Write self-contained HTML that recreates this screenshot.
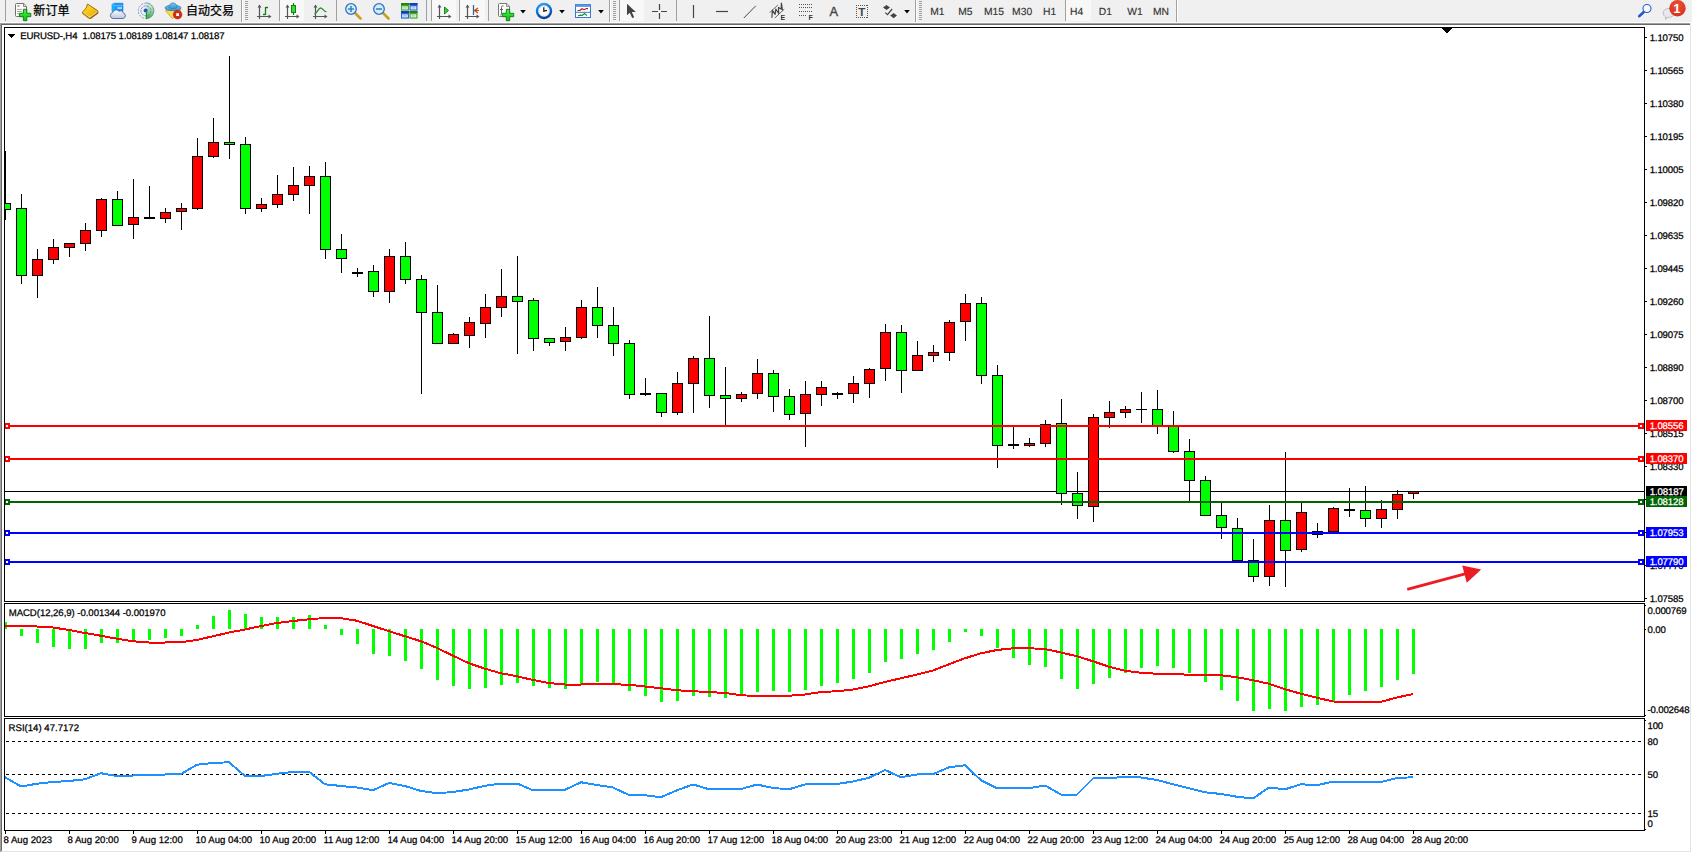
<!DOCTYPE html>
<html><head><meta charset="utf-8"><title>EURUSD-,H4</title>
<style>
html,body{margin:0;padding:0;}
body{width:1692px;height:853px;background:#f0f0f0;position:relative;overflow:hidden;font-family:"Liberation Sans","Noto Sans CJK SC",sans-serif;}
svg{position:absolute;left:0;top:0;}
.t{position:absolute;white-space:nowrap;line-height:11px;height:11px;letter-spacing:-0.15px;text-rendering:geometricPrecision;-webkit-text-stroke:0.25px;}
.b{overflow:hidden;height:10px;padding-top:1px;}
.c{position:absolute;white-space:nowrap;line-height:16px;font-family:"Liberation Sans","Noto Sans CJK SC",sans-serif;}
.m{position:absolute;white-space:nowrap;line-height:12px;color:#333;}
</style></head><body>
<svg width="1692" height="853" viewBox="0 0 1692 853" shape-rendering="crispEdges">
<rect x="0" y="22" width="1692" height="1" fill="#fbfbfb"/>
<rect x="0" y="23" width="1690" height="1" fill="#a0a0a0"/>
<rect x="1" y="24" width="1689" height="1" fill="#696969"/>
<rect x="0" y="23" width="1" height="829" fill="#a0a0a0"/>
<rect x="1" y="24" width="1" height="827" fill="#696969"/>
<rect x="1690" y="24" width="1" height="828" fill="#e3e3e3"/>
<rect x="1" y="851" width="1690" height="1" fill="#e3e3e3"/>
<rect x="2" y="25" width="1688" height="826" fill="#fff"/>
<rect x="1691" y="23" width="1" height="830" fill="#fff"/>
<rect x="0" y="852" width="1692" height="1" fill="#fff"/>
<rect x="4" y="27" width="1641" height="1" fill="#000"/>
<rect x="4" y="601" width="1641" height="1" fill="#000"/>
<rect x="4" y="27" width="1" height="575" fill="#000"/>
<rect x="1644" y="27" width="1" height="575" fill="#000"/>
<rect x="4" y="603" width="1641" height="1" fill="#000"/>
<rect x="4" y="716" width="1641" height="1" fill="#000"/>
<rect x="4" y="603" width="1" height="114" fill="#000"/>
<rect x="1644" y="603" width="1" height="114" fill="#000"/>
<rect x="4" y="718" width="1641" height="1" fill="#000"/>
<rect x="4" y="830" width="1641" height="1" fill="#000"/>
<rect x="4" y="718" width="1" height="113" fill="#000"/>
<rect x="1644" y="718" width="1" height="113" fill="#000"/>
<rect x="5" y="491" width="1639" height="1" fill="#000"/>
<rect x="5" y="151" width="1" height="69" fill="#000"/>
<rect x="5" y="203" width="6" height="7" fill="#000"/>
<rect x="5" y="204" width="5" height="5" fill="#00ff00"/>
<rect x="21" y="194" width="1" height="90" fill="#000"/>
<rect x="16" y="208" width="11" height="68" fill="#000"/>
<rect x="17" y="209" width="9" height="66" fill="#00ff00"/>
<rect x="37" y="249" width="1" height="49" fill="#000"/>
<rect x="32" y="259" width="11" height="17" fill="#000"/>
<rect x="33" y="260" width="9" height="15" fill="#ff0000"/>
<rect x="53" y="239" width="1" height="25" fill="#000"/>
<rect x="48" y="247" width="11" height="13" fill="#000"/>
<rect x="49" y="248" width="9" height="11" fill="#ff0000"/>
<rect x="69" y="243" width="1" height="14" fill="#000"/>
<rect x="64" y="243" width="11" height="5" fill="#000"/>
<rect x="65" y="244" width="9" height="3" fill="#ff0000"/>
<rect x="85" y="223" width="1" height="28" fill="#000"/>
<rect x="80" y="230" width="11" height="14" fill="#000"/>
<rect x="81" y="231" width="9" height="12" fill="#ff0000"/>
<rect x="101" y="198" width="1" height="39" fill="#000"/>
<rect x="96" y="199" width="11" height="32" fill="#000"/>
<rect x="97" y="200" width="9" height="30" fill="#ff0000"/>
<rect x="117" y="191" width="1" height="35" fill="#000"/>
<rect x="112" y="199" width="11" height="27" fill="#000"/>
<rect x="113" y="200" width="9" height="25" fill="#00ff00"/>
<rect x="133" y="179" width="1" height="60" fill="#000"/>
<rect x="128" y="217" width="11" height="8" fill="#000"/>
<rect x="129" y="218" width="9" height="6" fill="#ff0000"/>
<rect x="149" y="186" width="1" height="33" fill="#000"/>
<rect x="144" y="217" width="11" height="2" fill="#000"/>
<rect x="165" y="208" width="1" height="15" fill="#000"/>
<rect x="160" y="212" width="11" height="7" fill="#000"/>
<rect x="161" y="213" width="9" height="5" fill="#ff0000"/>
<rect x="181" y="203" width="1" height="27" fill="#000"/>
<rect x="176" y="208" width="11" height="4" fill="#000"/>
<rect x="177" y="209" width="9" height="2" fill="#ff0000"/>
<rect x="197" y="138" width="1" height="72" fill="#000"/>
<rect x="192" y="156" width="11" height="53" fill="#000"/>
<rect x="193" y="157" width="9" height="51" fill="#ff0000"/>
<rect x="213" y="118" width="1" height="40" fill="#000"/>
<rect x="208" y="142" width="11" height="15" fill="#000"/>
<rect x="209" y="143" width="9" height="13" fill="#ff0000"/>
<rect x="229" y="56" width="1" height="103" fill="#000"/>
<rect x="224" y="142" width="11" height="3" fill="#000"/>
<rect x="225" y="143" width="9" height="1" fill="#00ff00"/>
<rect x="245" y="137" width="1" height="77" fill="#000"/>
<rect x="240" y="144" width="11" height="65" fill="#000"/>
<rect x="241" y="145" width="9" height="63" fill="#00ff00"/>
<rect x="261" y="198" width="1" height="14" fill="#000"/>
<rect x="256" y="204" width="11" height="5" fill="#000"/>
<rect x="257" y="205" width="9" height="3" fill="#ff0000"/>
<rect x="277" y="175" width="1" height="33" fill="#000"/>
<rect x="272" y="194" width="11" height="11" fill="#000"/>
<rect x="273" y="195" width="9" height="9" fill="#ff0000"/>
<rect x="293" y="167" width="1" height="34" fill="#000"/>
<rect x="288" y="185" width="11" height="10" fill="#000"/>
<rect x="289" y="186" width="9" height="8" fill="#ff0000"/>
<rect x="309" y="166" width="1" height="48" fill="#000"/>
<rect x="304" y="176" width="11" height="10" fill="#000"/>
<rect x="305" y="177" width="9" height="8" fill="#ff0000"/>
<rect x="325" y="162" width="1" height="97" fill="#000"/>
<rect x="320" y="176" width="11" height="74" fill="#000"/>
<rect x="321" y="177" width="9" height="72" fill="#00ff00"/>
<rect x="341" y="234" width="1" height="39" fill="#000"/>
<rect x="336" y="249" width="11" height="10" fill="#000"/>
<rect x="337" y="250" width="9" height="8" fill="#00ff00"/>
<rect x="357" y="268" width="1" height="9" fill="#000"/>
<rect x="352" y="272" width="11" height="2" fill="#000"/>
<rect x="373" y="265" width="1" height="32" fill="#000"/>
<rect x="368" y="271" width="11" height="21" fill="#000"/>
<rect x="369" y="272" width="9" height="19" fill="#00ff00"/>
<rect x="389" y="249" width="1" height="54" fill="#000"/>
<rect x="384" y="256" width="11" height="36" fill="#000"/>
<rect x="385" y="257" width="9" height="34" fill="#ff0000"/>
<rect x="405" y="242" width="1" height="42" fill="#000"/>
<rect x="400" y="256" width="11" height="24" fill="#000"/>
<rect x="401" y="257" width="9" height="22" fill="#00ff00"/>
<rect x="421" y="275" width="1" height="119" fill="#000"/>
<rect x="416" y="279" width="11" height="34" fill="#000"/>
<rect x="417" y="280" width="9" height="32" fill="#00ff00"/>
<rect x="437" y="285" width="1" height="59" fill="#000"/>
<rect x="432" y="312" width="11" height="32" fill="#000"/>
<rect x="433" y="313" width="9" height="30" fill="#00ff00"/>
<rect x="453" y="333" width="1" height="11" fill="#000"/>
<rect x="448" y="334" width="11" height="10" fill="#000"/>
<rect x="449" y="335" width="9" height="8" fill="#ff0000"/>
<rect x="469" y="317" width="1" height="31" fill="#000"/>
<rect x="464" y="322" width="11" height="14" fill="#000"/>
<rect x="465" y="323" width="9" height="12" fill="#ff0000"/>
<rect x="485" y="294" width="1" height="44" fill="#000"/>
<rect x="480" y="307" width="11" height="17" fill="#000"/>
<rect x="481" y="308" width="9" height="15" fill="#ff0000"/>
<rect x="501" y="269" width="1" height="48" fill="#000"/>
<rect x="496" y="296" width="11" height="12" fill="#000"/>
<rect x="497" y="297" width="9" height="10" fill="#ff0000"/>
<rect x="517" y="256" width="1" height="98" fill="#000"/>
<rect x="512" y="296" width="11" height="6" fill="#000"/>
<rect x="513" y="297" width="9" height="4" fill="#00ff00"/>
<rect x="533" y="298" width="1" height="53" fill="#000"/>
<rect x="528" y="300" width="11" height="39" fill="#000"/>
<rect x="529" y="301" width="9" height="37" fill="#00ff00"/>
<rect x="549" y="338" width="1" height="8" fill="#000"/>
<rect x="544" y="338" width="11" height="5" fill="#000"/>
<rect x="545" y="339" width="9" height="3" fill="#00ff00"/>
<rect x="565" y="327" width="1" height="24" fill="#000"/>
<rect x="560" y="337" width="11" height="5" fill="#000"/>
<rect x="561" y="338" width="9" height="3" fill="#ff0000"/>
<rect x="581" y="300" width="1" height="39" fill="#000"/>
<rect x="576" y="307" width="11" height="31" fill="#000"/>
<rect x="577" y="308" width="9" height="29" fill="#ff0000"/>
<rect x="597" y="287" width="1" height="51" fill="#000"/>
<rect x="592" y="307" width="11" height="19" fill="#000"/>
<rect x="593" y="308" width="9" height="17" fill="#00ff00"/>
<rect x="613" y="307" width="1" height="49" fill="#000"/>
<rect x="608" y="325" width="11" height="19" fill="#000"/>
<rect x="609" y="326" width="9" height="17" fill="#00ff00"/>
<rect x="629" y="340" width="1" height="59" fill="#000"/>
<rect x="624" y="343" width="11" height="52" fill="#000"/>
<rect x="625" y="344" width="9" height="50" fill="#00ff00"/>
<rect x="645" y="378" width="1" height="18" fill="#000"/>
<rect x="640" y="393" width="11" height="2" fill="#000"/>
<rect x="661" y="393" width="1" height="24" fill="#000"/>
<rect x="656" y="393" width="11" height="20" fill="#000"/>
<rect x="657" y="394" width="9" height="18" fill="#00ff00"/>
<rect x="677" y="372" width="1" height="43" fill="#000"/>
<rect x="672" y="383" width="11" height="30" fill="#000"/>
<rect x="673" y="384" width="9" height="28" fill="#ff0000"/>
<rect x="693" y="356" width="1" height="57" fill="#000"/>
<rect x="688" y="358" width="11" height="26" fill="#000"/>
<rect x="689" y="359" width="9" height="24" fill="#ff0000"/>
<rect x="709" y="316" width="1" height="92" fill="#000"/>
<rect x="704" y="358" width="11" height="38" fill="#000"/>
<rect x="705" y="359" width="9" height="36" fill="#00ff00"/>
<rect x="725" y="367" width="1" height="60" fill="#000"/>
<rect x="720" y="395" width="11" height="4" fill="#000"/>
<rect x="721" y="396" width="9" height="2" fill="#00ff00"/>
<rect x="741" y="392" width="1" height="10" fill="#000"/>
<rect x="736" y="394" width="11" height="5" fill="#000"/>
<rect x="737" y="395" width="9" height="3" fill="#ff0000"/>
<rect x="757" y="359" width="1" height="40" fill="#000"/>
<rect x="752" y="373" width="11" height="21" fill="#000"/>
<rect x="753" y="374" width="9" height="19" fill="#ff0000"/>
<rect x="773" y="370" width="1" height="42" fill="#000"/>
<rect x="768" y="373" width="11" height="24" fill="#000"/>
<rect x="769" y="374" width="9" height="22" fill="#00ff00"/>
<rect x="789" y="389" width="1" height="31" fill="#000"/>
<rect x="784" y="396" width="11" height="19" fill="#000"/>
<rect x="785" y="397" width="9" height="17" fill="#00ff00"/>
<rect x="805" y="381" width="1" height="66" fill="#000"/>
<rect x="800" y="394" width="11" height="20" fill="#000"/>
<rect x="801" y="395" width="9" height="18" fill="#ff0000"/>
<rect x="821" y="381" width="1" height="25" fill="#000"/>
<rect x="816" y="387" width="11" height="8" fill="#000"/>
<rect x="817" y="388" width="9" height="6" fill="#ff0000"/>
<rect x="837" y="392" width="1" height="7" fill="#000"/>
<rect x="832" y="393" width="11" height="2" fill="#000"/>
<rect x="853" y="376" width="1" height="27" fill="#000"/>
<rect x="848" y="383" width="11" height="11" fill="#000"/>
<rect x="849" y="384" width="9" height="9" fill="#ff0000"/>
<rect x="869" y="368" width="1" height="30" fill="#000"/>
<rect x="864" y="369" width="11" height="15" fill="#000"/>
<rect x="865" y="370" width="9" height="13" fill="#ff0000"/>
<rect x="885" y="324" width="1" height="57" fill="#000"/>
<rect x="880" y="332" width="11" height="37" fill="#000"/>
<rect x="881" y="333" width="9" height="35" fill="#ff0000"/>
<rect x="901" y="325" width="1" height="68" fill="#000"/>
<rect x="896" y="332" width="11" height="39" fill="#000"/>
<rect x="897" y="333" width="9" height="37" fill="#00ff00"/>
<rect x="917" y="341" width="1" height="30" fill="#000"/>
<rect x="912" y="355" width="11" height="16" fill="#000"/>
<rect x="913" y="356" width="9" height="14" fill="#ff0000"/>
<rect x="933" y="345" width="1" height="17" fill="#000"/>
<rect x="928" y="352" width="11" height="4" fill="#000"/>
<rect x="929" y="353" width="9" height="2" fill="#ff0000"/>
<rect x="949" y="320" width="1" height="41" fill="#000"/>
<rect x="944" y="322" width="11" height="31" fill="#000"/>
<rect x="945" y="323" width="9" height="29" fill="#ff0000"/>
<rect x="965" y="294" width="1" height="47" fill="#000"/>
<rect x="960" y="303" width="11" height="19" fill="#000"/>
<rect x="961" y="304" width="9" height="17" fill="#ff0000"/>
<rect x="981" y="297" width="1" height="87" fill="#000"/>
<rect x="976" y="303" width="11" height="73" fill="#000"/>
<rect x="977" y="304" width="9" height="71" fill="#00ff00"/>
<rect x="997" y="365" width="1" height="103" fill="#000"/>
<rect x="992" y="375" width="11" height="71" fill="#000"/>
<rect x="993" y="376" width="9" height="69" fill="#00ff00"/>
<rect x="1013" y="425" width="1" height="24" fill="#000"/>
<rect x="1008" y="444" width="11" height="2" fill="#000"/>
<rect x="1029" y="438" width="1" height="9" fill="#000"/>
<rect x="1024" y="443" width="11" height="3" fill="#000"/>
<rect x="1025" y="444" width="9" height="1" fill="#ff0000"/>
<rect x="1045" y="420" width="1" height="27" fill="#000"/>
<rect x="1040" y="424" width="11" height="20" fill="#000"/>
<rect x="1041" y="425" width="9" height="18" fill="#ff0000"/>
<rect x="1061" y="399" width="1" height="106" fill="#000"/>
<rect x="1056" y="423" width="11" height="71" fill="#000"/>
<rect x="1057" y="424" width="9" height="69" fill="#00ff00"/>
<rect x="1077" y="472" width="1" height="47" fill="#000"/>
<rect x="1072" y="493" width="11" height="13" fill="#000"/>
<rect x="1073" y="494" width="9" height="11" fill="#00ff00"/>
<rect x="1093" y="414" width="1" height="108" fill="#000"/>
<rect x="1088" y="417" width="11" height="90" fill="#000"/>
<rect x="1089" y="418" width="9" height="88" fill="#ff0000"/>
<rect x="1109" y="401" width="1" height="27" fill="#000"/>
<rect x="1104" y="412" width="11" height="6" fill="#000"/>
<rect x="1105" y="413" width="9" height="4" fill="#ff0000"/>
<rect x="1125" y="406" width="1" height="12" fill="#000"/>
<rect x="1120" y="409" width="11" height="4" fill="#000"/>
<rect x="1121" y="410" width="9" height="2" fill="#ff0000"/>
<rect x="1141" y="392" width="1" height="31" fill="#000"/>
<rect x="1136" y="409" width="11" height="1" fill="#000"/>
<rect x="1157" y="390" width="1" height="44" fill="#000"/>
<rect x="1152" y="409" width="11" height="18" fill="#000"/>
<rect x="1153" y="410" width="9" height="16" fill="#00ff00"/>
<rect x="1173" y="411" width="1" height="42" fill="#000"/>
<rect x="1168" y="426" width="11" height="26" fill="#000"/>
<rect x="1169" y="427" width="9" height="24" fill="#00ff00"/>
<rect x="1189" y="439" width="1" height="63" fill="#000"/>
<rect x="1184" y="451" width="11" height="30" fill="#000"/>
<rect x="1185" y="452" width="9" height="28" fill="#00ff00"/>
<rect x="1205" y="476" width="1" height="40" fill="#000"/>
<rect x="1200" y="480" width="11" height="36" fill="#000"/>
<rect x="1201" y="481" width="9" height="34" fill="#00ff00"/>
<rect x="1221" y="503" width="1" height="36" fill="#000"/>
<rect x="1216" y="515" width="11" height="13" fill="#000"/>
<rect x="1217" y="516" width="9" height="11" fill="#00ff00"/>
<rect x="1237" y="518" width="1" height="43" fill="#000"/>
<rect x="1232" y="528" width="11" height="33" fill="#000"/>
<rect x="1233" y="529" width="9" height="31" fill="#00ff00"/>
<rect x="1253" y="539" width="1" height="43" fill="#000"/>
<rect x="1248" y="560" width="11" height="17" fill="#000"/>
<rect x="1249" y="561" width="9" height="15" fill="#00ff00"/>
<rect x="1269" y="505" width="1" height="81" fill="#000"/>
<rect x="1264" y="520" width="11" height="57" fill="#000"/>
<rect x="1265" y="521" width="9" height="55" fill="#ff0000"/>
<rect x="1285" y="452" width="1" height="135" fill="#000"/>
<rect x="1280" y="520" width="11" height="31" fill="#000"/>
<rect x="1281" y="521" width="9" height="29" fill="#00ff00"/>
<rect x="1301" y="503" width="1" height="49" fill="#000"/>
<rect x="1296" y="512" width="11" height="38" fill="#000"/>
<rect x="1297" y="513" width="9" height="36" fill="#ff0000"/>
<rect x="1317" y="523" width="1" height="15" fill="#000"/>
<rect x="1312" y="531" width="11" height="4" fill="#000"/>
<rect x="1313" y="532" width="9" height="2" fill="#00ff00"/>
<rect x="1333" y="507" width="1" height="25" fill="#000"/>
<rect x="1328" y="508" width="11" height="24" fill="#000"/>
<rect x="1329" y="509" width="9" height="22" fill="#ff0000"/>
<rect x="1349" y="488" width="1" height="29" fill="#000"/>
<rect x="1344" y="509" width="11" height="2" fill="#000"/>
<rect x="1365" y="486" width="1" height="41" fill="#000"/>
<rect x="1360" y="510" width="11" height="9" fill="#000"/>
<rect x="1361" y="511" width="9" height="7" fill="#00ff00"/>
<rect x="1381" y="500" width="1" height="28" fill="#000"/>
<rect x="1376" y="509" width="11" height="10" fill="#000"/>
<rect x="1377" y="510" width="9" height="8" fill="#ff0000"/>
<rect x="1397" y="490" width="1" height="29" fill="#000"/>
<rect x="1392" y="494" width="11" height="16" fill="#000"/>
<rect x="1393" y="495" width="9" height="14" fill="#ff0000"/>
<rect x="1413" y="491" width="1" height="8" fill="#000"/>
<rect x="1408" y="491" width="11" height="3" fill="#000"/>
<rect x="1409" y="492" width="9" height="1" fill="#ff0000"/>
<rect x="5" y="425" width="1639" height="2" fill="#ff0000"/>
<rect x="5" y="423" width="5" height="6" fill="#ff0000"/>
<rect x="6" y="425" width="2" height="2" fill="#fff"/>
<rect x="1638" y="423" width="6" height="6" fill="#ff0000"/>
<rect x="1640" y="425" width="2" height="2" fill="#fff"/>
<rect x="5" y="458" width="1639" height="2" fill="#ff0000"/>
<rect x="5" y="456" width="5" height="6" fill="#ff0000"/>
<rect x="6" y="458" width="2" height="2" fill="#fff"/>
<rect x="1638" y="456" width="6" height="6" fill="#ff0000"/>
<rect x="1640" y="458" width="2" height="2" fill="#fff"/>
<rect x="5" y="501" width="1639" height="2" fill="#006400"/>
<rect x="5" y="499" width="5" height="6" fill="#006400"/>
<rect x="6" y="501" width="2" height="2" fill="#fff"/>
<rect x="1638" y="499" width="6" height="6" fill="#006400"/>
<rect x="1640" y="501" width="2" height="2" fill="#fff"/>
<rect x="5" y="532" width="1639" height="2" fill="#0000ff"/>
<rect x="5" y="530" width="5" height="6" fill="#0000ff"/>
<rect x="6" y="532" width="2" height="2" fill="#fff"/>
<rect x="1638" y="530" width="6" height="6" fill="#0000ff"/>
<rect x="1640" y="532" width="2" height="2" fill="#fff"/>
<rect x="5" y="561" width="1639" height="2" fill="#0000ff"/>
<rect x="5" y="559" width="5" height="6" fill="#0000ff"/>
<rect x="6" y="561" width="2" height="2" fill="#fff"/>
<rect x="1638" y="559" width="6" height="6" fill="#0000ff"/>
<rect x="1640" y="561" width="2" height="2" fill="#fff"/>
<rect x="1645" y="37" width="2" height="1" fill="#000"/>
<rect x="1645" y="70" width="2" height="1" fill="#000"/>
<rect x="1645" y="103" width="2" height="1" fill="#000"/>
<rect x="1645" y="136" width="2" height="1" fill="#000"/>
<rect x="1645" y="169" width="2" height="1" fill="#000"/>
<rect x="1645" y="202" width="2" height="1" fill="#000"/>
<rect x="1645" y="235" width="2" height="1" fill="#000"/>
<rect x="1645" y="268" width="2" height="1" fill="#000"/>
<rect x="1645" y="301" width="2" height="1" fill="#000"/>
<rect x="1645" y="334" width="2" height="1" fill="#000"/>
<rect x="1645" y="367" width="2" height="1" fill="#000"/>
<rect x="1645" y="400" width="2" height="1" fill="#000"/>
<rect x="1645" y="433" width="2" height="1" fill="#000"/>
<rect x="1645" y="466" width="2" height="1" fill="#000"/>
<rect x="1645" y="499" width="2" height="1" fill="#000"/>
<rect x="1645" y="532" width="2" height="1" fill="#000"/>
<rect x="1645" y="565" width="2" height="1" fill="#000"/>
<rect x="1645" y="598" width="2" height="1" fill="#000"/>
<rect x="5" y="622" width="2" height="7" fill="#00ff00"/>
<rect x="20" y="629" width="3" height="7" fill="#00ff00"/>
<rect x="36" y="629" width="3" height="14" fill="#00ff00"/>
<rect x="52" y="629" width="3" height="18" fill="#00ff00"/>
<rect x="68" y="629" width="3" height="20" fill="#00ff00"/>
<rect x="84" y="629" width="3" height="20" fill="#00ff00"/>
<rect x="100" y="629" width="3" height="14" fill="#00ff00"/>
<rect x="116" y="629" width="3" height="14" fill="#00ff00"/>
<rect x="132" y="629" width="3" height="12" fill="#00ff00"/>
<rect x="148" y="629" width="3" height="11" fill="#00ff00"/>
<rect x="164" y="629" width="3" height="9" fill="#00ff00"/>
<rect x="180" y="629" width="3" height="7" fill="#00ff00"/>
<rect x="196" y="625" width="3" height="4" fill="#00ff00"/>
<rect x="212" y="616" width="3" height="13" fill="#00ff00"/>
<rect x="228" y="610" width="3" height="19" fill="#00ff00"/>
<rect x="244" y="614" width="3" height="15" fill="#00ff00"/>
<rect x="260" y="617" width="3" height="12" fill="#00ff00"/>
<rect x="276" y="617" width="3" height="12" fill="#00ff00"/>
<rect x="292" y="617" width="3" height="12" fill="#00ff00"/>
<rect x="308" y="615" width="3" height="14" fill="#00ff00"/>
<rect x="324" y="625" width="3" height="4" fill="#00ff00"/>
<rect x="340" y="629" width="3" height="6" fill="#00ff00"/>
<rect x="356" y="629" width="3" height="15" fill="#00ff00"/>
<rect x="372" y="629" width="3" height="25" fill="#00ff00"/>
<rect x="388" y="629" width="3" height="27" fill="#00ff00"/>
<rect x="404" y="629" width="3" height="32" fill="#00ff00"/>
<rect x="420" y="629" width="3" height="40" fill="#00ff00"/>
<rect x="436" y="629" width="3" height="51" fill="#00ff00"/>
<rect x="452" y="629" width="3" height="57" fill="#00ff00"/>
<rect x="468" y="629" width="3" height="60" fill="#00ff00"/>
<rect x="484" y="629" width="3" height="59" fill="#00ff00"/>
<rect x="500" y="629" width="3" height="56" fill="#00ff00"/>
<rect x="516" y="629" width="3" height="54" fill="#00ff00"/>
<rect x="532" y="629" width="3" height="57" fill="#00ff00"/>
<rect x="548" y="629" width="3" height="59" fill="#00ff00"/>
<rect x="564" y="629" width="3" height="60" fill="#00ff00"/>
<rect x="580" y="629" width="3" height="56" fill="#00ff00"/>
<rect x="596" y="629" width="3" height="53" fill="#00ff00"/>
<rect x="612" y="629" width="3" height="54" fill="#00ff00"/>
<rect x="628" y="629" width="3" height="62" fill="#00ff00"/>
<rect x="644" y="629" width="3" height="67" fill="#00ff00"/>
<rect x="660" y="629" width="3" height="73" fill="#00ff00"/>
<rect x="676" y="629" width="3" height="72" fill="#00ff00"/>
<rect x="692" y="629" width="3" height="67" fill="#00ff00"/>
<rect x="708" y="629" width="3" height="68" fill="#00ff00"/>
<rect x="724" y="629" width="3" height="69" fill="#00ff00"/>
<rect x="740" y="629" width="3" height="67" fill="#00ff00"/>
<rect x="756" y="629" width="3" height="63" fill="#00ff00"/>
<rect x="772" y="629" width="3" height="62" fill="#00ff00"/>
<rect x="788" y="629" width="3" height="63" fill="#00ff00"/>
<rect x="804" y="629" width="3" height="61" fill="#00ff00"/>
<rect x="820" y="629" width="3" height="57" fill="#00ff00"/>
<rect x="836" y="629" width="3" height="54" fill="#00ff00"/>
<rect x="852" y="629" width="3" height="50" fill="#00ff00"/>
<rect x="868" y="629" width="3" height="44" fill="#00ff00"/>
<rect x="884" y="629" width="3" height="33" fill="#00ff00"/>
<rect x="900" y="629" width="3" height="30" fill="#00ff00"/>
<rect x="916" y="629" width="3" height="25" fill="#00ff00"/>
<rect x="932" y="629" width="3" height="21" fill="#00ff00"/>
<rect x="948" y="629" width="3" height="13" fill="#00ff00"/>
<rect x="964" y="629" width="3" height="3" fill="#00ff00"/>
<rect x="980" y="629" width="3" height="7" fill="#00ff00"/>
<rect x="996" y="629" width="3" height="19" fill="#00ff00"/>
<rect x="1012" y="629" width="3" height="29" fill="#00ff00"/>
<rect x="1028" y="629" width="3" height="36" fill="#00ff00"/>
<rect x="1044" y="629" width="3" height="38" fill="#00ff00"/>
<rect x="1060" y="629" width="3" height="50" fill="#00ff00"/>
<rect x="1076" y="629" width="3" height="60" fill="#00ff00"/>
<rect x="1092" y="629" width="3" height="55" fill="#00ff00"/>
<rect x="1108" y="629" width="3" height="49" fill="#00ff00"/>
<rect x="1124" y="629" width="3" height="44" fill="#00ff00"/>
<rect x="1140" y="629" width="3" height="39" fill="#00ff00"/>
<rect x="1156" y="629" width="3" height="37" fill="#00ff00"/>
<rect x="1172" y="629" width="3" height="39" fill="#00ff00"/>
<rect x="1188" y="629" width="3" height="44" fill="#00ff00"/>
<rect x="1204" y="629" width="3" height="53" fill="#00ff00"/>
<rect x="1220" y="629" width="3" height="61" fill="#00ff00"/>
<rect x="1236" y="629" width="3" height="72" fill="#00ff00"/>
<rect x="1252" y="629" width="3" height="82" fill="#00ff00"/>
<rect x="1268" y="629" width="3" height="80" fill="#00ff00"/>
<rect x="1284" y="629" width="3" height="82" fill="#00ff00"/>
<rect x="1300" y="629" width="3" height="78" fill="#00ff00"/>
<rect x="1316" y="629" width="3" height="76" fill="#00ff00"/>
<rect x="1332" y="629" width="3" height="73" fill="#00ff00"/>
<rect x="1348" y="629" width="3" height="66" fill="#00ff00"/>
<rect x="1364" y="629" width="3" height="62" fill="#00ff00"/>
<rect x="1380" y="629" width="3" height="58" fill="#00ff00"/>
<rect x="1396" y="629" width="3" height="51" fill="#00ff00"/>
<rect x="1412" y="629" width="3" height="45" fill="#00ff00"/>
<polyline points="5,626.00 21,626.00 37,626.50 53,627.50 69,630.00 85,633.00 101,635.75 117,638.75 133,641.25 149,642.50 165,642.50 181,642.25 197,640.00 213,636.25 229,632.50 245,629.50 261,626.00 277,623.00 293,621.00 309,619.25 325,618.00 341,618.25 357,620.75 373,626.00 389,631.25 405,636.25 421,641.25 437,648.00 453,655.75 469,663.25 485,668.75 501,673.25 517,676.25 533,680.00 549,683.00 565,684.50 581,684.50 597,684.25 613,684.25 629,684.75 645,686.50 661,688.25 677,690.25 693,691.25 709,692.00 725,693.00 741,695.25 757,696.00 773,696.00 789,695.75 805,694.50 821,692.00 837,691.25 853,689.50 869,686.25 885,682.00 901,678.25 917,674.50 933,670.50 949,664.25 965,658.25 981,653.25 997,650.00 1013,648.25 1029,648.25 1045,649.00 1061,652.50 1077,656.25 1093,661.25 1109,666.75 1125,670.75 1141,672.75 1157,673.75 1173,674.00 1189,674.75 1205,674.75 1221,675.25 1237,677.25 1253,680.25 1269,683.75 1285,689.25 1301,693.75 1317,697.75 1333,701.50 1349,701.75 1365,701.75 1381,701.75 1397,697.50 1413,694.00" fill="none" stroke="#ff0000" stroke-width="2" stroke-linejoin="round"/>
<rect x="1645" y="605" width="1" height="1" fill="#000"/>
<rect x="1645" y="629" width="1" height="1" fill="#000"/>
<rect x="1645" y="715" width="1" height="1" fill="#000"/>
<line x1="6" y1="741.5" x2="1644" y2="741.5" stroke="#000" stroke-width="1" stroke-dasharray="3 3"/>
<line x1="6" y1="774.5" x2="1644" y2="774.5" stroke="#000" stroke-width="1" stroke-dasharray="3 3"/>
<line x1="6" y1="813.5" x2="1644" y2="813.5" stroke="#000" stroke-width="1" stroke-dasharray="3 3"/>
<polyline points="5,777.25 21,786.50 37,783.75 53,782.00 69,781.00 85,779.25 101,773.25 117,776.00 133,775.50 149,775.25 165,774.50 181,774.00 197,764.75 213,763.00 229,762.25 245,776.00 261,776.00 277,773.75 293,772.00 309,771.75 325,784.25 341,786.00 357,787.50 373,790.25 389,783.00 405,786.00 421,791.00 437,793.25 453,792.00 469,789.50 485,785.75 501,783.50 517,783.50 533,790.25 549,790.25 565,789.75 581,782.25 597,785.00 613,787.50 629,795.00 645,795.25 661,797.25 677,790.25 693,784.50 709,789.25 725,789.25 741,789.00 757,784.50 773,788.00 789,789.25 805,784.50 821,784.00 837,784.00 853,781.50 869,777.75 885,770.00 901,777.25 917,774.50 933,774.25 949,767.25 965,765.25 981,780.25 997,788.25 1013,788.25 1029,788.25 1045,785.50 1061,794.50 1077,794.50 1093,778.50 1109,777.75 1125,777.25 1141,777.50 1157,780.00 1173,784.25 1189,788.25 1205,792.25 1221,794.00 1237,796.75 1253,798.50 1269,787.50 1285,789.25 1301,784.25 1317,785.25 1333,781.50 1349,782.25 1365,782.25 1381,782.00 1397,778.00 1413,777.25" fill="none" stroke="#1e90ff" stroke-width="2" stroke-linejoin="round"/>
<rect x="1645" y="720" width="1" height="1" fill="#000"/>
<rect x="1645" y="829" width="1" height="1" fill="#000"/>
<rect x="5" y="831" width="1" height="3" fill="#000"/>
<rect x="69" y="831" width="1" height="3" fill="#000"/>
<rect x="133" y="831" width="1" height="3" fill="#000"/>
<rect x="197" y="831" width="1" height="3" fill="#000"/>
<rect x="261" y="831" width="1" height="3" fill="#000"/>
<rect x="325" y="831" width="1" height="3" fill="#000"/>
<rect x="389" y="831" width="1" height="3" fill="#000"/>
<rect x="453" y="831" width="1" height="3" fill="#000"/>
<rect x="517" y="831" width="1" height="3" fill="#000"/>
<rect x="581" y="831" width="1" height="3" fill="#000"/>
<rect x="645" y="831" width="1" height="3" fill="#000"/>
<rect x="709" y="831" width="1" height="3" fill="#000"/>
<rect x="773" y="831" width="1" height="3" fill="#000"/>
<rect x="837" y="831" width="1" height="3" fill="#000"/>
<rect x="901" y="831" width="1" height="3" fill="#000"/>
<rect x="965" y="831" width="1" height="3" fill="#000"/>
<rect x="1029" y="831" width="1" height="3" fill="#000"/>
<rect x="1093" y="831" width="1" height="3" fill="#000"/>
<rect x="1157" y="831" width="1" height="3" fill="#000"/>
<rect x="1221" y="831" width="1" height="3" fill="#000"/>
<rect x="1285" y="831" width="1" height="3" fill="#000"/>
<rect x="1349" y="831" width="1" height="3" fill="#000"/>
<rect x="1413" y="831" width="1" height="3" fill="#000"/>
<polygon points="1441,28 1452,28 1446.5,33.5" fill="#000"/>
<polygon points="7.5,34 15.5,34 11.5,38" fill="#000"/>
<g shape-rendering="geometricPrecision">
<line x1="1407.2" y1="589.3" x2="1466" y2="573.6" stroke="#ed1c24" stroke-width="2.8"/>
<polygon points="1462.2,565.6 1481.2,569.6 1466.8,582.8" fill="#ed1c24"/>
</g>
<g shape-rendering="geometricPrecision">
<rect x="5" y="0" width="1" height="21" fill="#a0a0a0" shape-rendering="crispEdges"/>
<defs><linearGradient id="gGold" x1="0" y1="0" x2="1" y2="1"><stop offset="0" stop-color="#ffe23a"/><stop offset="0.6" stop-color="#f2bc12"/><stop offset="1" stop-color="#d99a08"/></linearGradient><linearGradient id="gCloud" x1="0" y1="0" x2="0" y2="1"><stop offset="0" stop-color="#ffffff"/><stop offset="1" stop-color="#b8c6de"/></linearGradient><linearGradient id="gSig" x1="0" y1="0" x2="0" y2="1"><stop offset="0" stop-color="#d8ead8" stop-opacity="0.5"/><stop offset="1" stop-color="#35a835"/></linearGradient><linearGradient id="gPlus" x1="0" y1="0" x2="0" y2="1"><stop offset="0" stop-color="#4cf24c"/><stop offset="1" stop-color="#0cc00c"/></linearGradient><radialGradient id="gBadge" cx="0.5" cy="0.3" r="0.8"><stop offset="0" stop-color="#ea5238"/><stop offset="1" stop-color="#d62a14"/></radialGradient><linearGradient id="gHat" x1="0" y1="0" x2="0" y2="1"><stop offset="0" stop-color="#7cc4ee"/><stop offset="1" stop-color="#3c94cc"/></linearGradient></defs>
<path d="M16.5 3.5h7.200l2.800 2.800v9.700a.5 .5 0 0 1 -.5 .5h-9.500a1 1 0 0 1 -1 -1v-11a1 1 0 0 1 1 -1z" fill="#fcfcfc" stroke="#707070" stroke-width="1"/>
<path d="M23.500 3.700v2.800h2.800" fill="#e4e4e4" stroke="#707070" stroke-width="0.8"/>
<path d="M17.200 6h2.400" stroke="#8c8c8c" stroke-width="1.300"/>
<path d="M17.200 9.400h4.500M17.200 11.500h4.500M17.200 13.600h2" stroke="#9a9a9a" stroke-width="0.9"/>
<path d="M23.400000000000002 9.3h3.4v4h4v3.4h-4v4h-3.4v-4h-4v-3.4h4z" fill="url(#gPlus)" stroke="#0a7c0a" stroke-width="0.9"/>
<path d="M87.500 4L97.300 10.400Q98.600 11.600 97.900 12.900L90 18.800L82.100 12.700L86.200 8Z" fill="url(#gGold)" stroke="#a86c10" stroke-width="1" stroke-linejoin="round"/>
<path d="M83.400 13.200L90 17.500L97 12.300" fill="none" stroke="#f6e08a" stroke-width="1.100"/>
<path d="M90.200 18.600L98 12.800" fill="none" stroke="#8e5c10" stroke-width="1.300"/>
<path d="M82.300 13L90 18.700" fill="none" stroke="#b07a14" stroke-width="1.200"/>
<path d="M112 4.200L114.600 3.200H123V11.500H112Z" fill="#1a94f8" stroke="#0a78e0" stroke-width="0.6"/>
<path d="M112 4.200L115.200 5.800V12H112Z" fill="#12b0ff"/>
<path d="M112.200 4.200L115.200 5.700H122.800" fill="none" stroke="#8ad4ff" stroke-width="0.7"/>
<rect x="117.300" y="7.400" width="4.700" height="1.300" fill="#e8f6ff"/>
<path d="M113 18.500a3 3 0 0 1 -.3 -5.900a3.600 3.600 0 0 1 6.300 -1.300a2.800 2.800 0 0 1 4.200 1.700a2.800 2.800 0 0 1 -.2 5.500z" fill="url(#gCloud)" stroke="#4a6aa4" stroke-width="0.9"/>
<path d="M145.900 2.700a8.100 8.100 0 0 1 0 16.200z" fill="url(#gSig)"/>
<circle cx="145.900" cy="10.800" r="7.600" fill="none" stroke="#5a84d8" stroke-width="1" stroke-dasharray="2.200 1.200" opacity="0.75"/>
<circle cx="145.900" cy="10.800" r="5" fill="none" stroke="#4a78d4" stroke-width="1" stroke-dasharray="2.400 1" opacity="0.8"/>
<path d="M145.900 2.700a8.100 8.100 0 0 1 0 16.200" fill="none" stroke="#4a9a6a" stroke-width="0.8" opacity="0.7"/>
<circle cx="145.600" cy="10.600" r="2" fill="#2454c8"/>
<path d="M146.500 11v7.800" stroke="#1ca01c" stroke-width="1.300"/>
<path d="M165.400 10.600L172.600 18.800L180.900 9.800z" fill="#f8dc50" stroke="#c8a018" stroke-width="0.8" stroke-linejoin="round"/>
<ellipse cx="173" cy="7.900" rx="8" ry="2.700" fill="url(#gHat)" stroke="#2c7cb0" stroke-width="0.8"/>
<path d="M168.800 7.600c0-6.200 8.400-6.200 8.400 0c-2 1.300-6.400 1.300-8.400 0z" fill="url(#gHat)" stroke="#2c7cb0" stroke-width="0.7"/>
<circle cx="177.600" cy="14.600" r="4.300" fill="#d82a14"/>
<circle cx="177.600" cy="14.600" r="4.300" fill="none" stroke="#b01c0c" stroke-width="0.6"/>
<rect x="176.200" y="13.200" width="2.800" height="2.800" fill="#fff"/>
<rect x="241" y="0" width="1" height="22" fill="#a0a0a0" shape-rendering="crispEdges"/>
<rect x="242" y="0" width="1" height="22" fill="#fff" shape-rendering="crispEdges"/>
<rect x="245" y="1" width="3" height="1" fill="#a0a0a0" shape-rendering="crispEdges"/>
<rect x="245" y="3" width="3" height="1" fill="#a0a0a0" shape-rendering="crispEdges"/>
<rect x="245" y="5" width="3" height="1" fill="#a0a0a0" shape-rendering="crispEdges"/>
<rect x="245" y="7" width="3" height="1" fill="#a0a0a0" shape-rendering="crispEdges"/>
<rect x="245" y="9" width="3" height="1" fill="#a0a0a0" shape-rendering="crispEdges"/>
<rect x="245" y="11" width="3" height="1" fill="#a0a0a0" shape-rendering="crispEdges"/>
<rect x="245" y="13" width="3" height="1" fill="#a0a0a0" shape-rendering="crispEdges"/>
<rect x="245" y="15" width="3" height="1" fill="#a0a0a0" shape-rendering="crispEdges"/>
<rect x="245" y="17" width="3" height="1" fill="#a0a0a0" shape-rendering="crispEdges"/>
<rect x="245" y="19" width="3" height="1" fill="#a0a0a0" shape-rendering="crispEdges"/>
<path d="M259.5 6V19M257 16.5H270" stroke="#555" stroke-width="1.2" fill="none"/>
<path d="M259.5 4.5l-2 3h4zM271.5 16.5l-3 -2v4z" fill="#555"/>
<path d="M265.5 7v8M265.5 7.5h2.5M263 14.5h2.5" stroke="#108010" stroke-width="1.3" fill="none"/>
<rect x="280" y="0" width="24" height="21" fill="#f8f8f8" shape-rendering="crispEdges"/>
<rect x="279" y="0" width="1" height="21" fill="#a0a0a0" shape-rendering="crispEdges"/>
<path d="M287.5 6V19M285 16.5H298" stroke="#555" stroke-width="1.2" fill="none"/>
<path d="M287.5 4.5l-2 3h4zM299.5 16.5l-3 -2v4z" fill="#555"/>
<path d="M293.5 3v12" stroke="#108010" stroke-width="1.2"/>
<rect x="291.5" y="5.5" width="4" height="7" fill="#30e030" stroke="#108010" stroke-width="1"/>
<path d="M315.5 6V19M313 16.5H326" stroke="#555" stroke-width="1.2" fill="none"/>
<path d="M315.5 4.5l-2 3h4zM327.5 16.5l-3 -2v4z" fill="#555"/>
<path d="M314.5 14c3-1 4-6 6-6s3 3 6 4" stroke="#289028" stroke-width="1.3" fill="none"/>
<rect x="336" y="0" width="1" height="21" fill="#a0a0a0" shape-rendering="crispEdges"/>
<path d="M355 13l5.5 5.5" stroke="#c8a020" stroke-width="2.6" stroke-linecap="round"/>
<circle cx="351" cy="9" r="5.3" fill="#d4ecf8" stroke="#3070c8" stroke-width="1.3"/>
<path d="M348 9h6M351 6v6" stroke="#3888b8" stroke-width="1.6"/>
<path d="M383 13l5.5 5.5" stroke="#c8a020" stroke-width="2.6" stroke-linecap="round"/>
<circle cx="379" cy="9" r="5.3" fill="#d4ecf8" stroke="#3070c8" stroke-width="1.3"/>
<path d="M376 9h6" stroke="#3888b8" stroke-width="1.6"/>
<rect x="401" y="3" width="8" height="7.6" fill="#48a828"/>
<rect x="401" y="3" width="8" height="2" fill="#2c8010"/>
<rect x="402.2" y="6.4" width="5.6" height="3" fill="#eef4ff"/>
<rect x="403.2" y="7.4" width="3.6" height="1" fill="#48a828" opacity="0.6"/>
<rect x="409.5" y="3" width="8" height="7.6" fill="#2868d8"/>
<rect x="409.5" y="3" width="8" height="2" fill="#1040b0"/>
<rect x="410.7" y="6.4" width="5.6" height="3" fill="#eef4ff"/>
<rect x="411.7" y="7.4" width="3.6" height="1" fill="#2868d8" opacity="0.6"/>
<rect x="401" y="11" width="8" height="7.6" fill="#2868d8"/>
<rect x="401" y="11" width="8" height="2" fill="#1040b0"/>
<rect x="402.2" y="14.4" width="5.6" height="3" fill="#eef4ff"/>
<rect x="403.2" y="15.4" width="3.6" height="1" fill="#2868d8" opacity="0.6"/>
<rect x="409.5" y="11" width="8" height="7.6" fill="#48a828"/>
<rect x="409.5" y="11" width="8" height="2" fill="#2c8010"/>
<rect x="410.7" y="14.4" width="5.6" height="3" fill="#eef4ff"/>
<rect x="411.7" y="15.4" width="3.6" height="1" fill="#48a828" opacity="0.6"/>
<rect x="426" y="0" width="1" height="21" fill="#a0a0a0" shape-rendering="crispEdges"/>
<rect x="432" y="0" width="24" height="21" fill="#f8f8f8" shape-rendering="crispEdges"/>
<rect x="431" y="0" width="1" height="21" fill="#a0a0a0" shape-rendering="crispEdges"/>
<path d="M439.5 6V19M437 16.5H450" stroke="#555" stroke-width="1.2" fill="none"/>
<path d="M439.5 4.5l-2 3h4zM451.5 16.5l-3 -2v4z" fill="#555"/>
<path d="M444.5 7l4 3.5-4 3.5z" fill="#38d038" stroke="#108010" stroke-width="0.9"/>
<rect x="460" y="0" width="25" height="21" fill="#f8f8f8" shape-rendering="crispEdges"/>
<rect x="459" y="0" width="1" height="21" fill="#a0a0a0" shape-rendering="crispEdges"/>
<path d="M467.5 6V19M465 16.5H478" stroke="#555" stroke-width="1.2" fill="none"/>
<path d="M467.5 4.5l-2 3h4zM479.5 16.5l-3 -2v4z" fill="#555"/>
<path d="M473.5 5v10" stroke="#2070a0" stroke-width="1.3"/>
<path d="M479 10.5h-4M478 8l-3.5 2.5 3.5 2.5" stroke="#d04010" stroke-width="1.2" fill="none"/>
<rect x="488" y="0" width="1" height="21" fill="#a0a0a0" shape-rendering="crispEdges"/>
<path d="M499.500 3.500h7.200l2.800 2.800v10.200h-10a1 1 0 0 1 -1 -1v-11a1 1 0 0 1 1 -1z" fill="#fcfcfc" stroke="#777" stroke-width="1"/><path d="M506.500 3.700v2.800h2.800" fill="#e4e4e4" stroke="#777" stroke-width="0.8"/>
<path d="M503.5 6c-1.5-.6-2 .2-2 1.5v6c0 1-.3 1.6-1.2 1.6M500 9.5h3" stroke="#555" stroke-width="0.9" fill="none"/>
<path d="M506.3 9.3h3.4v4h4v3.4h-4v4h-3.4v-4h-4v-3.4h4z" fill="url(#gPlus)" stroke="#0a7c0a" stroke-width="0.9"/>
<polygon points="520.2,10 525.8,10 523,13.4" fill="#000"/>
<defs><linearGradient id="gClk" x1="0" y1="0" x2="0.3" y2="1"><stop offset="0" stop-color="#38b0f4"/><stop offset="0.5" stop-color="#0c74d8"/><stop offset="1" stop-color="#084098"/></linearGradient></defs>
<circle cx="544" cy="11" r="8.200" fill="url(#gClk)"/>
<circle cx="544" cy="11" r="5.800" fill="#fbfbf8"/>
<circle cx="544" cy="11" r="4.800" fill="none" stroke="#a8a8a8" stroke-width="0.9" stroke-dasharray="0.600 1.910"/>
<path d="M543.800 7.200V11.200L547 10.400" stroke="#222" stroke-width="1.300" fill="none"/>
<polygon points="559.2,10 564.8,10 562,13.4" fill="#000"/>
<rect x="575.5" y="4.5" width="15" height="13" fill="#fff" stroke="#3878d0" stroke-width="1"/>
<rect x="575.5" y="4.5" width="15" height="2.4" fill="#5898e8"/>
<path d="M575.5 12.3h15" stroke="#3878d0" stroke-width="1"/>
<path d="M577.5 10.5l2.5-.2 2-1.6 2 1 2.5-1.2 1.5 .2" stroke="#b02010" stroke-width="1.2" fill="none"/>
<path d="M578 15.8l2.5-.6 1.5.4 2.6-2 2.4 2" stroke="#189030" stroke-width="1.2" fill="none"/>
<polygon points="598.2,10 603.8,10 601,13.4" fill="#000"/>
<rect x="609" y="0" width="1" height="22" fill="#a0a0a0" shape-rendering="crispEdges"/>
<rect x="610" y="0" width="1" height="22" fill="#fff" shape-rendering="crispEdges"/>
<rect x="613" y="1" width="3" height="1" fill="#a0a0a0" shape-rendering="crispEdges"/>
<rect x="613" y="3" width="3" height="1" fill="#a0a0a0" shape-rendering="crispEdges"/>
<rect x="613" y="5" width="3" height="1" fill="#a0a0a0" shape-rendering="crispEdges"/>
<rect x="613" y="7" width="3" height="1" fill="#a0a0a0" shape-rendering="crispEdges"/>
<rect x="613" y="9" width="3" height="1" fill="#a0a0a0" shape-rendering="crispEdges"/>
<rect x="613" y="11" width="3" height="1" fill="#a0a0a0" shape-rendering="crispEdges"/>
<rect x="613" y="13" width="3" height="1" fill="#a0a0a0" shape-rendering="crispEdges"/>
<rect x="613" y="15" width="3" height="1" fill="#a0a0a0" shape-rendering="crispEdges"/>
<rect x="613" y="17" width="3" height="1" fill="#a0a0a0" shape-rendering="crispEdges"/>
<rect x="613" y="19" width="3" height="1" fill="#a0a0a0" shape-rendering="crispEdges"/>
<rect x="620" y="0" width="24" height="21" fill="#f8f8f8" shape-rendering="crispEdges"/>
<rect x="619" y="0" width="1" height="21" fill="#a0a0a0" shape-rendering="crispEdges"/>
<path d="M627 3.8v11.5l2.8-2.6 2.4 5.4 2-.9-2.4-5.2h4z" fill="#444"/>
<path d="M659.5 4v6M659.5 13v6M652 11.5h6M661 11.5h6" stroke="#444" stroke-width="1.2"/>
<rect x="676" y="0" width="1" height="21" fill="#a0a0a0" shape-rendering="crispEdges"/>
<path d="M693.5 5v13" stroke="#444" stroke-width="1.2"/>
<path d="M716 11.5h12" stroke="#444" stroke-width="1.2"/>
<path d="M743.8 18l12-12.2" stroke="#4a4a4a" stroke-width="1"/>
<path d="M769.600 12.600L777.800 5.100M774.800 18L784.200 9.200" stroke="#555" stroke-width="0.9"/>
<path d="M771.900 17.800L772.400 10.400L775.100 14.400L775.800 9.200L778.700 13.500L778.500 7.400L781.200 9L781.400 3.100L782.500 10.400" stroke="#444" stroke-width="1.200" fill="none" stroke-linejoin="round"/>
<path d="M799 4.5H812" stroke="#555" stroke-width="1" stroke-dasharray="1 1" shape-rendering="crispEdges"/>
<path d="M799 7.5H812" stroke="#555" stroke-width="1" stroke-dasharray="1 1" shape-rendering="crispEdges"/>
<path d="M799 11.5H812" stroke="#555" stroke-width="1" stroke-dasharray="1 1" shape-rendering="crispEdges"/>
<path d="M799 15.5H807" stroke="#555" stroke-width="1" stroke-dasharray="1 1" shape-rendering="crispEdges"/>
<path d="M856 5.5H868M856 17.5H868M856.5 5V18M867.5 5V18" fill="none" stroke="#555" stroke-width="1" stroke-dasharray="1 1" shape-rendering="crispEdges"/>
<path d="M883 7.5l3.5-2.6 3.5 2.6-3.5 2.6zM890.2 15.6l3.4-2.6 3.4 2.600-3.400 2.600z" fill="#444"/>
<path d="M885.2 12.6l2.3 2 4.6-5.6" stroke="#444" stroke-width="1.2" fill="none"/>
<polygon points="904.2,10 909.8,10 907,13.4" fill="#000"/>
<rect x="915" y="0" width="1" height="22" fill="#a0a0a0" shape-rendering="crispEdges"/>
<rect x="916" y="0" width="1" height="22" fill="#fff" shape-rendering="crispEdges"/>
<rect x="919" y="1" width="3" height="1" fill="#a0a0a0" shape-rendering="crispEdges"/>
<rect x="919" y="3" width="3" height="1" fill="#a0a0a0" shape-rendering="crispEdges"/>
<rect x="919" y="5" width="3" height="1" fill="#a0a0a0" shape-rendering="crispEdges"/>
<rect x="919" y="7" width="3" height="1" fill="#a0a0a0" shape-rendering="crispEdges"/>
<rect x="919" y="9" width="3" height="1" fill="#a0a0a0" shape-rendering="crispEdges"/>
<rect x="919" y="11" width="3" height="1" fill="#a0a0a0" shape-rendering="crispEdges"/>
<rect x="919" y="13" width="3" height="1" fill="#a0a0a0" shape-rendering="crispEdges"/>
<rect x="919" y="15" width="3" height="1" fill="#a0a0a0" shape-rendering="crispEdges"/>
<rect x="919" y="17" width="3" height="1" fill="#a0a0a0" shape-rendering="crispEdges"/>
<rect x="919" y="19" width="3" height="1" fill="#a0a0a0" shape-rendering="crispEdges"/>
<rect x="1066" y="0" width="25" height="21" fill="#f8f8f8" shape-rendering="crispEdges"/>
<rect x="1065" y="0" width="1" height="21" fill="#a0a0a0" shape-rendering="crispEdges"/>
<rect x="1176" y="0" width="1" height="22" fill="#a0a0a0" shape-rendering="crispEdges"/>
<rect x="1177" y="0" width="1" height="22" fill="#fff" shape-rendering="crispEdges"/>
<path d="M1643.8 12l-4.6 4.2" stroke="#2858c8" stroke-width="2.6" stroke-linecap="round"/>
<circle cx="1647" cy="8.5" r="4" fill="#fafafa" stroke="#2858c8" stroke-width="1.1"/>
<path d="M1668.7 8.5c3.2 0 5.6 2 5.6 4.5s-2.4 4.4-5.6 4.4c-.6 0-1.2-.1-1.7-.2l-1.2 2.3-.4-2.8c-1.4-.8-2.3-2.2-2.3-3.7c0-2.500 2.4-4.500 5.600-4.500z" fill="#e8e8ee" stroke="#b0b0b0" stroke-width="0.8"/>
<circle cx="1677.5" cy="8.3" r="8.2" fill="url(#gBadge)"/>
</g>
</svg>
<div class="t" style="left:3.5px;top:835px;font-size:9.6px;color:#000;letter-spacing:0;">8 Aug 2023</div>
<div class="t" style="left:67.5px;top:835px;font-size:9.6px;color:#000;letter-spacing:0;">8 Aug 20:00</div>
<div class="t" style="left:131.5px;top:835px;font-size:9.6px;color:#000;letter-spacing:0;">9 Aug 12:00</div>
<div class="t" style="left:195.5px;top:835px;font-size:9.6px;color:#000;letter-spacing:0;">10 Aug 04:00</div>
<div class="t" style="left:259.5px;top:835px;font-size:9.6px;color:#000;letter-spacing:0;">10 Aug 20:00</div>
<div class="t" style="left:323.5px;top:835px;font-size:9.6px;color:#000;letter-spacing:0;">11 Aug 12:00</div>
<div class="t" style="left:387.5px;top:835px;font-size:9.6px;color:#000;letter-spacing:0;">14 Aug 04:00</div>
<div class="t" style="left:451.5px;top:835px;font-size:9.6px;color:#000;letter-spacing:0;">14 Aug 20:00</div>
<div class="t" style="left:515.5px;top:835px;font-size:9.6px;color:#000;letter-spacing:0;">15 Aug 12:00</div>
<div class="t" style="left:579.5px;top:835px;font-size:9.6px;color:#000;letter-spacing:0;">16 Aug 04:00</div>
<div class="t" style="left:643.5px;top:835px;font-size:9.6px;color:#000;letter-spacing:0;">16 Aug 20:00</div>
<div class="t" style="left:707.5px;top:835px;font-size:9.6px;color:#000;letter-spacing:0;">17 Aug 12:00</div>
<div class="t" style="left:771.5px;top:835px;font-size:9.6px;color:#000;letter-spacing:0;">18 Aug 04:00</div>
<div class="t" style="left:835.5px;top:835px;font-size:9.6px;color:#000;letter-spacing:0;">20 Aug 23:00</div>
<div class="t" style="left:899.5px;top:835px;font-size:9.6px;color:#000;letter-spacing:0;">21 Aug 12:00</div>
<div class="t" style="left:963.5px;top:835px;font-size:9.6px;color:#000;letter-spacing:0;">22 Aug 04:00</div>
<div class="t" style="left:1027.5px;top:835px;font-size:9.6px;color:#000;letter-spacing:0;">22 Aug 20:00</div>
<div class="t" style="left:1091.5px;top:835px;font-size:9.6px;color:#000;letter-spacing:0;">23 Aug 12:00</div>
<div class="t" style="left:1155.5px;top:835px;font-size:9.6px;color:#000;letter-spacing:0;">24 Aug 04:00</div>
<div class="t" style="left:1219.5px;top:835px;font-size:9.6px;color:#000;letter-spacing:0;">24 Aug 20:00</div>
<div class="t" style="left:1283.5px;top:835px;font-size:9.6px;color:#000;letter-spacing:0;">25 Aug 12:00</div>
<div class="t" style="left:1347.5px;top:835px;font-size:9.6px;color:#000;letter-spacing:0;">28 Aug 04:00</div>
<div class="t" style="left:1411.5px;top:835px;font-size:9.6px;color:#000;letter-spacing:0;">28 Aug 20:00</div>
<div class="t" style="left:20.2px;top:31px;font-size:9.6px;color:#000;">EURUSD-,H4&nbsp; 1.08175 1.08189 1.08147 1.08187</div>
<div class="t" style="left:8.7px;top:608px;font-size:9.6px;color:#000;letter-spacing:-0.05px;">MACD(12,26,9) -0.001344 -0.001970</div>
<div class="t" style="left:8.6px;top:723px;font-size:9.6px;color:#000;letter-spacing:0;">RSI(14) 47.7172</div>
<div class="t" style="left:1649.7px;top:33px;font-size:9.6px;color:#000;">1.10750</div>
<div class="t" style="left:1649.7px;top:66px;font-size:9.6px;color:#000;">1.10565</div>
<div class="t" style="left:1649.7px;top:99px;font-size:9.6px;color:#000;">1.10380</div>
<div class="t" style="left:1649.7px;top:132px;font-size:9.6px;color:#000;">1.10195</div>
<div class="t" style="left:1649.7px;top:165px;font-size:9.6px;color:#000;">1.10005</div>
<div class="t" style="left:1649.7px;top:198px;font-size:9.6px;color:#000;">1.09820</div>
<div class="t" style="left:1649.7px;top:231px;font-size:9.6px;color:#000;">1.09635</div>
<div class="t" style="left:1649.7px;top:264px;font-size:9.6px;color:#000;">1.09445</div>
<div class="t" style="left:1649.7px;top:297px;font-size:9.6px;color:#000;">1.09260</div>
<div class="t" style="left:1649.7px;top:330px;font-size:9.6px;color:#000;">1.09075</div>
<div class="t" style="left:1649.7px;top:363px;font-size:9.6px;color:#000;">1.08890</div>
<div class="t" style="left:1649.7px;top:396px;font-size:9.6px;color:#000;">1.08700</div>
<div class="t" style="left:1649.7px;top:429px;font-size:9.6px;color:#000;">1.08515</div>
<div class="t" style="left:1649.7px;top:462px;font-size:9.6px;color:#000;">1.08330</div>
<div class="t" style="left:1649.7px;top:495px;font-size:9.6px;color:#000;">1.08145</div>
<div class="t" style="left:1649.7px;top:528px;font-size:9.6px;color:#000;">1.07960</div>
<div class="t" style="left:1649.7px;top:561px;font-size:9.6px;color:#000;">1.07770</div>
<div class="t" style="left:1649.7px;top:594px;font-size:9.6px;color:#000;">1.07585</div>
<div class="t" style="left:1647.5px;top:606px;font-size:9.6px;color:#000;">0.000769</div>
<div class="t" style="left:1647.5px;top:625px;font-size:9.6px;color:#000;">0.00</div>
<div class="t" style="left:1647.5px;top:705px;font-size:9.6px;color:#000;">-0.002648</div>
<div class="t" style="left:1647.5px;top:721px;font-size:9.6px;color:#000;">100</div>
<div class="t" style="left:1647.5px;top:737px;font-size:9.6px;color:#000;">80</div>
<div class="t" style="left:1647.5px;top:770px;font-size:9.6px;color:#000;">50</div>
<div class="t" style="left:1647.5px;top:809px;font-size:9.6px;color:#000;">15</div>
<div class="t" style="left:1647.5px;top:819px;font-size:9.6px;color:#000;">0</div>
<div class="t b" style="left:1646px;top:420px;width:37.3px;padding-left:3.7px;background:#ff0000;color:#fff;font-size:9.6px">1.08556</div>
<div class="t b" style="left:1646px;top:453px;width:37.3px;padding-left:3.7px;background:#ff0000;color:#fff;font-size:9.6px">1.08370</div>
<div class="t b" style="left:1646px;top:486px;width:37.3px;padding-left:3.7px;background:#000;color:#fff;font-size:9.7px">1.08187</div>
<div class="t b" style="left:1646px;top:496px;width:37.3px;padding-left:3.7px;background:#006400;color:#fff;font-size:9.6px">1.08128</div>
<div class="t b" style="left:1646px;top:527px;width:37.3px;padding-left:3.7px;background:#0000ff;color:#fff;font-size:9.6px">1.07953</div>
<div class="t b" style="left:1646px;top:556px;width:37.3px;padding-left:3.7px;background:#0000ff;color:#fff;font-size:9.6px">1.07790</div>
<div class="c" style="left:33.3px;top:2.5px;font-size:12.1px;color:#000;-webkit-text-stroke:0.25px #000">新订单</div>
<div class="c" style="left:185.900px;top:2.500px;font-size:12px;color:#000;-webkit-text-stroke:0.25px #000">自动交易</div>
<div class="m" style="left:780.5px;top:11.8px;font-size:7px;font-weight:bold;color:#333">E</div>
<div class="m" style="left:808.5px;top:11.8px;font-size:7px;font-weight:bold;color:#333">F</div>
<div class="m" style="left:829.4px;top:5.8px;font-size:12.8px;color:#444;-webkit-text-stroke:0.35px #444">A</div>
<div class="m" style="left:858.3px;top:5.6px;font-size:11.5px;font-weight:bold;color:#444">T</div>
<div class="m" style="left:930.3px;top:7px;font-size:10.3px;text-rendering:geometricPrecision;-webkit-text-stroke:0.15px #333">M1</div>
<div class="m" style="left:958.3px;top:7px;font-size:10.3px;text-rendering:geometricPrecision;-webkit-text-stroke:0.15px #333">M5</div>
<div class="m" style="left:984px;top:7px;font-size:10.3px;text-rendering:geometricPrecision;-webkit-text-stroke:0.15px #333">M15</div>
<div class="m" style="left:1012.1px;top:7px;font-size:10.3px;text-rendering:geometricPrecision;-webkit-text-stroke:0.15px #333">M30</div>
<div class="m" style="left:1043px;top:7px;font-size:10.3px;text-rendering:geometricPrecision;-webkit-text-stroke:0.15px #333">H1</div>
<div class="m" style="left:1070px;top:7px;font-size:10.3px;text-rendering:geometricPrecision;-webkit-text-stroke:0.15px #333">H4</div>
<div class="m" style="left:1098.8px;top:7px;font-size:10.3px;text-rendering:geometricPrecision;-webkit-text-stroke:0.15px #333">D1</div>
<div class="m" style="left:1127.2px;top:7px;font-size:10.3px;text-rendering:geometricPrecision;-webkit-text-stroke:0.15px #333">W1</div>
<div class="m" style="left:1153px;top:7px;font-size:10.3px;text-rendering:geometricPrecision;-webkit-text-stroke:0.15px #333">MN</div>
<div class="m" style="left:1673.3px;top:3px;font-size:13px;font-weight:bold;color:#fff">1</div>
</body></html>
